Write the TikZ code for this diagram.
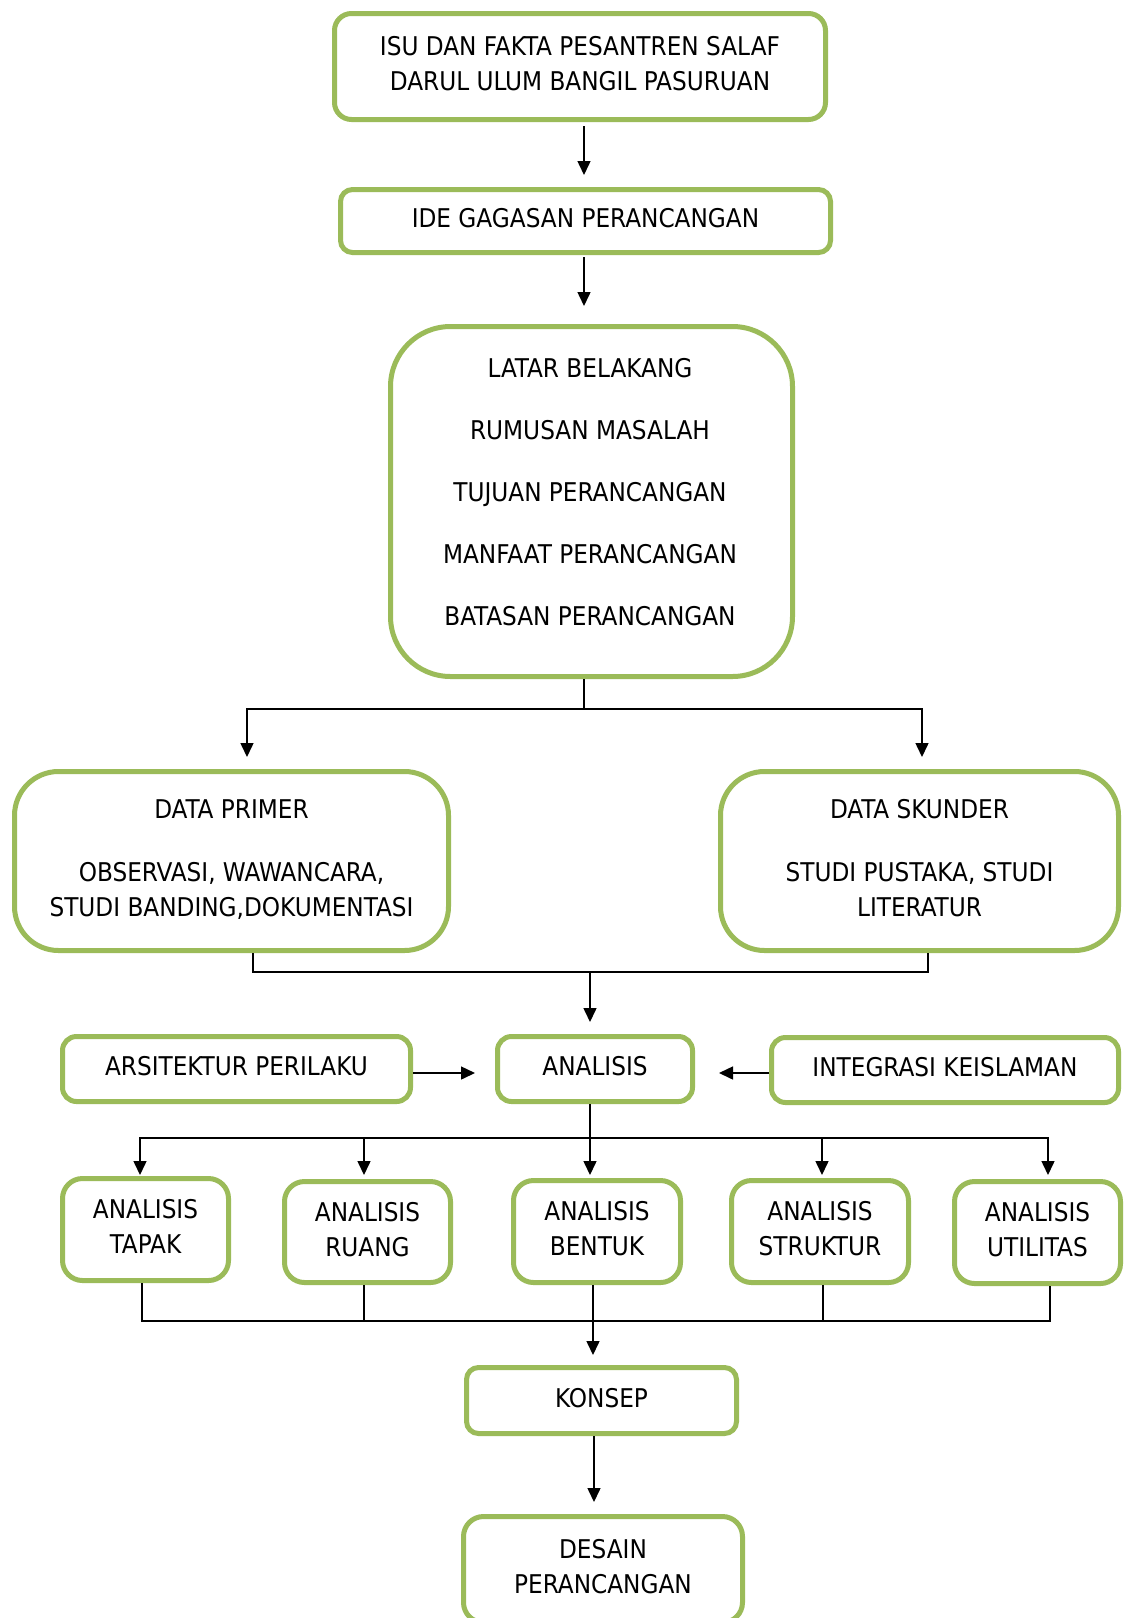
\documentclass[tikz,border=0pt]{standalone}
\usepackage{fontspec}
\setmainfont{DejaVu Sans Condensed}
\usetikzlibrary{arrows.meta}
\definecolor{boxgreen}{HTML}{9BBB59}
\begin{document}
\begin{tikzpicture}[x=0.5pt,y=-0.5pt,
  txt/.style={align=center, inner sep=0pt, font=\fontsize{12.9}{17.5}\selectfont, text=black},
  box/.style={txt, draw=boxgreen, line width=2.5pt, fill=white, text depth=3pt},
  conn/.style={line width=0.75pt, draw=black},
  arr/.style={conn, -{Triangle[width=6.5pt,length=7pt]}}]
\useasboundingbox[fill=white] (0,0) rectangle (1125,1618);

\node[box, rounded corners=8.5pt, minimum width=245.5pt, minimum height=53pt] (isu) at (580,66.5)
  {ISU DAN FAKTA PESANTREN SALAF\\DARUL ULUM BANGIL PASURUAN};
\node[box, rounded corners=6pt, minimum width=245pt, minimum height=31.5pt] (ide) at (585.5,221)
  {IDE GAGASAN PERANCANGAN};
\node[box, rounded corners=30pt, minimum width=201pt, minimum height=175pt] (latar) at (591.5,501.5) {};
\node[txt] (latartext) at (590,492.5)
  {LATAR BELAKANG\\[13.5pt]RUMUSAN MASALAH\\[13.5pt]TUJUAN PERANCANGAN\\[13.5pt]MANFAAT PERANCANGAN\\[13.5pt]BATASAN PERANCANGAN};
\node[box, rounded corners=22pt, minimum width=217pt, minimum height=89.5pt] (primer) at (231.5,861)
  {DATA PRIMER\\[14pt]OBSERVASI, WAWANCARA,\\STUDI BANDING,DOKUMENTASI};
\node[box, rounded corners=22pt, minimum width=199pt, minimum height=89.5pt] (skunder) at (919.5,861)
  {DATA SKUNDER\\[14pt]STUDI PUSTAKA, STUDI\\LITERATUR};
\node[box, rounded corners=7pt, minimum width=174pt, minimum height=32.5pt] (arsitektur) at (236.5,1069)
  {ARSITEKTUR PERILAKU};
\node[box, rounded corners=7pt, minimum width=97.5pt, minimum height=32.5pt] (analisis) at (595,1069)
  {ANALISIS};
\node[box, rounded corners=7pt, minimum width=173.5pt, minimum height=32.5pt] (integrasi) at (945,1070)
  {INTEGRASI KEISLAMAN};
\node[box, rounded corners=10pt, minimum width=83pt, minimum height=51pt] (tapak) at (145.5,1229.5)
  {ANALISIS\\TAPAK};
\node[box, rounded corners=10pt, minimum width=83pt, minimum height=50.5pt] (ruang) at (367.5,1232)
  {ANALISIS\\RUANG};
\node[box, rounded corners=10pt, minimum width=83.5pt, minimum height=51pt] (bentuk) at (597,1231.5)
  {ANALISIS\\BENTUK};
\node[box, rounded corners=10pt, minimum width=88.5pt, minimum height=51pt] (struktur) at (820,1231.5)
  {ANALISIS\\STRUKTUR};
\node[box, rounded corners=10pt, minimum width=83pt, minimum height=51pt] (utilitas) at (1037.5,1232.5)
  {ANALISIS\\UTILITAS};
\node[box, rounded corners=6pt, minimum width=135pt, minimum height=33pt] (konsep) at (601.5,1400.5)
  {KONSEP};
\node[box, rounded corners=10pt, minimum width=139.5pt, minimum height=53pt] (desain) at (603,1569.5)
  {DESAIN\\PERANCANGAN};

% connectors
\draw[arr] ([shift={(4,4)}]isu.south) -- ([shift={(-1.5,-12)}]ide.north);
\draw[arr] ([shift={(-1.5,2)}]ide.south) -- ([shift={(-7.5,-18)}]latar.north);

\draw[conn] ([shift={(-7.5,0)}]latar.south) -- ++(0,30) coordinate (split1);
\draw[arr] (split1) -| ([shift={(15.5,-12)}]primer.north);
\draw[arr] (split1) -| ([shift={(2.5,-12)}]skunder.north);

\draw[conn] ([shift={(21.5,0)}]primer.south) -- ++(0,19) -| ([shift={(8.5,0)}]skunder.south);
\draw[arr] ([shift={(-5,-62)}]analisis.north) -- ([shift={(-5,-12)}]analisis.north);

\draw[arr] ([shift={(0,4)}]arsitektur.east) -- ([shift={(-20,4)}]analisis.west);
\draw[arr] ([shift={(0,3)}]integrasi.west) -- ([shift={(24,4)}]analisis.east);

\coordinate (h1) at ([shift={(-5,34)}]analisis.south);
\draw[arr] ([shift={(-5,0)}]analisis.south) -- ([shift={(-7,-3)}]bentuk.north);
\draw[arr] (h1) -| ([shift={(-5.5,-1)}]tapak.north);
\draw[arr] (h1) -| ([shift={(-3.5,-4)}]ruang.north);
\draw[arr] (h1) -| ([shift={(2,-3)}]struktur.north);
\draw[arr] (h1) -| ([shift={(10.5,-4)}]utilitas.north);

\draw[conn] ([shift={(-3.5,0)}]tapak.south) |- ([shift={(12.5,35)}]utilitas.south) -- ([shift={(12.5,0)}]utilitas.south);
\draw[conn] ([shift={(-3.5,0)}]ruang.south) -- ++(0,36);
\draw[conn] ([shift={(3,0)}]struktur.south) -- ++(0,36);
\draw[arr] ([shift={(-4,0)}]bentuk.south) -- ([shift={(-8.5,-10)}]konsep.north);

\draw[arr] ([shift={(-7.5,0)}]konsep.south) -- ([shift={(-9,-12)}]desain.north);
\end{tikzpicture}
\end{document}
